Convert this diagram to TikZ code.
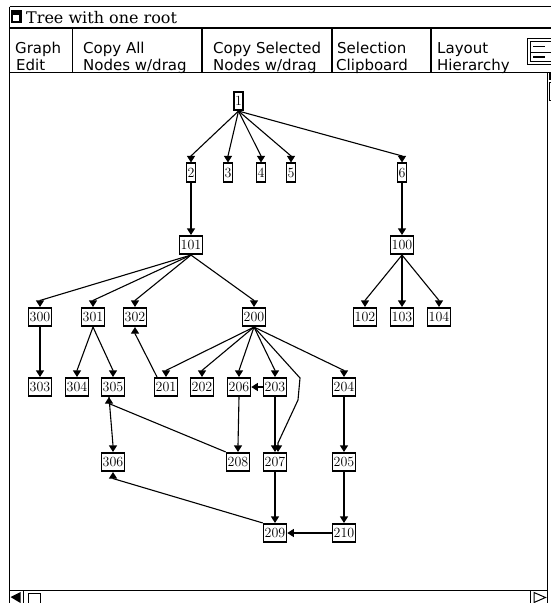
\documentclass[tikz,border=0pt]{standalone}
\usepackage{fontspec}
\usetikzlibrary{arrows.meta}
\newfontfamily\titlefont{DejaVu Serif}
\newfontfamily\menufont{DejaVu Sans}
\tikzset{
  box/.style={draw, line width=1.6pt, fill=white, minimum width=23pt, minimum height=18.5pt, inner sep=0pt, font=\fontsize{14}{14}\selectfont},
  sbox/.style={box, minimum width=9pt},
  conn/.style={line width=1.1pt, -{Triangle[width=8pt,length=6.5pt]}},
  frame/.style={line width=1.5pt},
  menu/.style={anchor=base west, inner sep=0pt, font=\menufont\fontsize{15}{15}\selectfont},
}
\begin{document}
\begin{tikzpicture}[x=1pt,y=-1pt]
\useasboundingbox (0,0) rectangle (551,603);
\fill[white] (0,0) rectangle (551,603);
% window chrome
\draw[frame] (9.5,6.5) -- (553,6.5);
\draw[frame] (9.5,6.5) -- (9.5,605);
\draw[frame] (9.5,28) -- (553,28);
\draw[frame] (9.5,72.5) -- (553,72.5);
\draw[frame] (547.5,72.5) -- (547.5,605);
\draw[frame] (9.5,590.5) -- (547.5,590.5);
% title icon
\fill[black] (11,10) rectangle (22,22.5);
\fill[white] (12.5,14.5) rectangle (18.5,21);
\node[anchor=base west, inner sep=0pt, font=\titlefont\fontsize{16}{16}\selectfont] (title) at (26,23) {Tree with one root};
% menu separators
\draw[frame] (72.5,28) -- (72.5,72.5);
\draw[frame] (202,28) -- (202,72.5);
\draw[frame] (332,28) -- (332,72.5);
\draw[frame] (431,28) -- (431,72.5);
\node[menu] (m1a) at (15,53) {Graph};
\node[menu] (m1b) at (16,70) {Edit};
\node[menu] (m2a) at (83,53) {Copy All};
\node[menu] (m2b) at (83,70) {Nodes w/drag};
\node[menu] (m3a) at (213,53) {Copy Selected};
\node[menu] (m3b) at (213,70) {Nodes w/drag};
\node[menu] (m4a) at (337,53) {Selection};
\node[menu] (m4b) at (336,70) {Clipboard};
\node[menu] (m5a) at (437,53) {Layout};
\node[menu] (m5b) at (437,70) {Hierarchy};
% list icon
\draw[line width=1.2pt] (527.5,38.5) rectangle (553,64.5);
\draw[line width=1pt] (530.5,41.5) rectangle (553,61.5);
\draw[line width=1.8pt] (533,46.5) -- (545,46.5);
\draw[line width=1pt] (530.5,52) -- (553,52);
\draw[line width=1.8pt] (533,57) -- (545,57);
% right scrollbar bits
\fill[black] (548.5,73) rectangle (551,80);
\draw[line width=1pt] (549,82) rectangle (553,100);
% bottom scrollbar
\fill[black] (10.5,597) -- (20.5,592) -- (20.5,603) -- cycle;
\draw[frame] (23.5,591) -- (23.5,603);
\draw[line width=1.6pt] (28.5,593.5) rectangle (40.5,605);
\draw[frame] (530.5,591) -- (530.5,603);
\draw[line width=1pt] (534,592.5) -- (545.5,597.5) -- (534,602.5) -- cycle;
% nodes
\node[sbox] (n1) at (238.5,101) {1};
\node[sbox] (n2) at (191,172.5) {2};
\node[sbox] (n3) at (228,172.5) {3};
\node[sbox] (n4) at (261,172.5) {4};
\node[sbox] (n5) at (291,172.5) {5};
\node[sbox] (n6) at (402,172.5) {6};
\node[box] (n101) at (191,245) {101};
\node[box] (n100) at (402,245) {100};
\node[box] (n300) at (40,317) {300};
\node[box] (n301) at (93,317) {301};
\node[box] (n302) at (135,317) {302};
\node[box] (n200) at (254,317) {200};
\node[box] (n102) at (365,317) {102};
\node[box] (n103) at (402,317) {103};
\node[box] (n104) at (439,317) {104};
\node[box] (n303) at (40,387) {303};
\node[box] (n304) at (77,387) {304};
\node[box] (n305) at (113,387) {305};
\node[box] (n201) at (166,387) {201};
\node[box] (n202) at (202,387) {202};
\node[box] (n206) at (239,387) {206};
\node[box] (n203) at (275,387) {203};
\node[box] (n204) at (344,387) {204};
\node[box] (n306) at (113,462) {306};
\node[box] (n208) at (238,462) {208};
\node[box] (n207) at (275,462) {207};
\node[box] (n205) at (344,462) {205};
\node[box] (n209) at (275,533) {209};
\node[box] (n210) at (344,533) {210};
% connectors (down arrows)
\foreach \s/\t in {n1/n2,n1/n3,n1/n4,n1/n5,n1/n6,n2/n101,n6/n100,
  n101/n300,n101/n301,n101/n302,n101/n200,n100/n102,n100/n103,n100/n104,
  n300/n303,n301/n304,n301/n305,n200/n201,n200/n202,n200/n206,n200/n203,n200/n204,
  n206/n208,n203/n207,n204/n205,n207/n209,n205/n210}
  \draw[conn] (\s.south) -- ([yshift=6.5pt]\t.north) -- (\t.north);
\draw[conn] ([xshift=-4pt]n305.south) -- ([yshift=6.5pt]n306.north) -- (n306.north);
\draw[conn] (n203.west) -- (n206.east);
\draw[conn] (n210.west) -- (n209.east);
% up arrows
\draw[conn] ([xshift=-9pt]n201.north) -- ([yshift=-6.5pt]n302.south) -- (n302.south);
\draw[conn] (n208.north west) -- ([xshift=-4pt,yshift=-6.5pt]n305.south) -- ([xshift=-4pt]n305.south);
\draw[conn] (n209.north west) -- ([yshift=-6.5pt]n306.south) -- (n306.south);
% bent connector 200 -> 207
\coordinate (k1) at (300,378);
\coordinate (k2) at (298,400);
\draw[conn] (n200.south) -- (k1) -- (k2) -- ([xshift=3pt,yshift=9pt]n207.north) -- ([xshift=3pt]n207.north);
\end{tikzpicture}
\end{document}
